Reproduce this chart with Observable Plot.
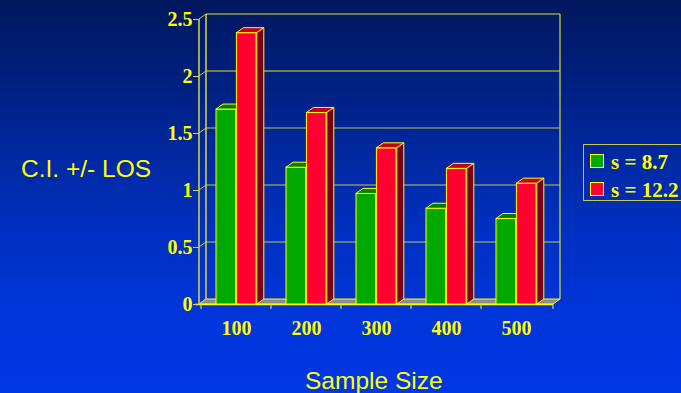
<!DOCTYPE html>
<html><head><meta charset="utf-8">
<script src="https://cdn.jsdelivr.net/npm/d3@7"></script>
<script src="https://cdn.jsdelivr.net/npm/@observablehq/plot@0.6"></script>
<style>
html,body{margin:0;padding:0;width:681px;height:393px;overflow:hidden;}
body{position:relative;background:linear-gradient(to bottom,#00175e 0%,#00238c 28%,#0030c0 58%,#0035da 80%,#0037e4 100%);}
#chart{position:absolute;left:0;top:0;}
.title{position:absolute;color:#ffff00;font-family:"Liberation Sans",Arial,sans-serif;font-size:24.5px;line-height:24px;white-space:nowrap;}
#legend{position:absolute;left:583px;top:144px;width:104px;height:57px;border:1px solid #c8c850;box-sizing:border-box;}
.item{position:absolute;left:6px;height:22px;white-space:nowrap;color:#ffff00;font-family:"Liberation Serif","Times New Roman",serif;font-weight:bold;font-size:21px;line-height:22px;}
.sw{position:absolute;left:0;top:3px;width:14px;height:14px;box-sizing:border-box;border:1px solid #ffff00;}
.lbl{position:absolute;left:21px;top:0;}
</style>
</head><body>
<div id="chart"></div>
<div class="title" style="left:21px;top:157px;">C.I. +/- LOS</div>
<div class="title" style="left:305px;top:369px;">Sample Size</div>
<div id="legend"></div>
<script>
// ---- data ----
const sizes = ["100", "200", "300", "400", "500"];
const seriesNames = ["s = 8.7", "s = 12.2"];
const green = [1.71, 1.20, 0.97, 0.84, 0.75];
const red = [2.38, 1.68, 1.37, 1.19, 1.06];
const yTicks = [0, 0.5, 1, 1.5, 2, 2.5];
const yTickLabels = ["0", "0.5", "1", "1.5", "2", "2.5"];

// ---- styles ----
const W = 681, H = 393, ML = 199, MR = 128, MT = 19, MB = 89;
const DX = 7, DY = -5;
const YEL = "#ffff00";
const GRID = "#c4c450";
const BW = (W - ML - MR) / sizes.length;
const GAP = 15, BARW = (BW - 2 * GAP) / 2;
const colors = {
  green: {front: "#00a800", top: "#007c00", side: "#005c00"},
  red: {front: "#ff0030", top: "#c2001e", side: "#7a0018"}
};

function frameMark(index, {x, y}) {
  const g = d3.create("svg:g");
  const [x0, x1] = x.range();
  const y0 = y(0), yt = y(yTicks[yTicks.length - 1]);
  g.append("path")
    .attr("d", `M${x0},${y0}L${x1},${y0}L${x1 + DX},${y0 + DY}L${x0 + DX},${y0 + DY}Z`)
    .attr("fill", "#8c8c8c").attr("stroke", YEL).attr("stroke-width", 1);
  yTicks.forEach((t, i) => {
    const yy = y(t);
    if (t > 0) {
      g.append("line").attr("x1", x0 + DX).attr("x2", x1 + DX).attr("y1", yy + DY).attr("y2", yy + DY)
        .attr("stroke", i >= yTicks.length - 2 ? "#e0e030" : GRID).attr("stroke-width", 1.2);
    }
    g.append("line").attr("x1", x0).attr("x2", x0 + DX).attr("y1", yy).attr("y2", yy + DY)
      .attr("stroke", GRID).attr("stroke-width", 1);
  });
  g.append("line").attr("x1", x0 + DX).attr("x2", x0 + DX).attr("y1", yt + DY).attr("y2", y0 + DY)
    .attr("stroke", "#d8d840").attr("stroke-width", 1.5);
  g.append("line").attr("x1", x1 + DX).attr("x2", x1 + DX).attr("y1", yt + DY).attr("y2", y0 + DY)
    .attr("stroke", "#d8d840").attr("stroke-width", 1.2);
  g.append("line").attr("x1", x0).attr("x2", x0).attr("y1", yt).attr("y2", y0)
    .attr("stroke", "#d8d840").attr("stroke-width", 1.5);
  g.append("line").attr("x1", x0 - 4).attr("x2", x1).attr("y1", y0 + 0.5).attr("y2", y0 + 0.5)
    .attr("stroke", YEL).attr("stroke-width", 1.5);
  [...sizes.map(s => x(s)), x1].forEach(xx => {
    g.append("line").attr("x1", xx).attr("x2", xx).attr("y1", y0).attr("y2", y0 + 5)
      .attr("stroke", "#d8d840").attr("stroke-width", 1.2);
  });
  return g.node();
}

function facesMark(values, insetLeft, c, withSide) {
  return (index, {x, y}) => {
    const g = d3.create("svg:g");
    sizes.forEach((s, i) => {
      const xl = x(s) + insetLeft, xr = xl + BARW;
      const yt = y(values[i]), yb = y(0);
      g.append("path")
        .attr("d", `M${xl},${yt}L${xr},${yt}L${xr + DX},${yt + DY}L${xl + DX},${yt + DY}Z`)
        .attr("fill", c.top).attr("stroke", YEL).attr("stroke-width", 1).attr("stroke-linejoin", "round");
      if (withSide) {
        g.append("path")
          .attr("d", `M${xr},${yt}L${xr + DX},${yt + DY}L${xr + DX},${yb + DY}L${xr},${yb}Z`)
          .attr("fill", c.side).attr("stroke", YEL).attr("stroke-width", 1).attr("stroke-linejoin", "round");
      }
    });
    return g.node();
  };
}

const FONT = "Liberation Serif, Times New Roman, serif";
const chart = Plot.plot({
  width: W, height: H,
  marginLeft: ML, marginRight: MR, marginTop: MT, marginBottom: MB,
  style: {background: "transparent", color: YEL, overflow: "visible"},
  x: {type: "band", domain: sizes, padding: 0},
  y: {domain: [0, 2.5]},
  marks: [
    frameMark,
    Plot.barY(sizes, {x: sizes, y: green, fill: colors.green.front, stroke: YEL, strokeWidth: 1,
      insetLeft: GAP, insetRight: BW - GAP - BARW}),
    facesMark(green, GAP, colors.green, false),
    Plot.barY(sizes, {x: sizes, y: red, fill: colors.red.front, stroke: YEL, strokeWidth: 1,
      insetLeft: GAP + BARW, insetRight: GAP}),
    facesMark(red, GAP + BARW, colors.red, true),
    Plot.axisY({ticks: yTicks, tickFormat: d => yTickLabels[yTicks.indexOf(d)], tickSize: 6, tickPadding: 1,
      label: null, stroke: "#d8d840", fill: YEL, fontSize: 20, fontWeight: "bold", fontFamily: FONT}),
    Plot.axisX({tickSize: 0, tickPadding: 16, label: null, fill: YEL,
      fontSize: 20, fontWeight: "bold", fontFamily: FONT})
  ]
});
document.getElementById("chart").appendChild(chart);

const legend = document.getElementById("legend");
[colors.green.front, colors.red.front].forEach((col, i) => {
  const it = document.createElement("div");
  it.className = "item";
  it.style.top = (6 + i * 28) + "px";
  it.innerHTML = `<span class="sw" style="background:${col}"></span><span class="lbl">${seriesNames[i]}</span>`;
  legend.appendChild(it);
});
</script>
</body></html>
